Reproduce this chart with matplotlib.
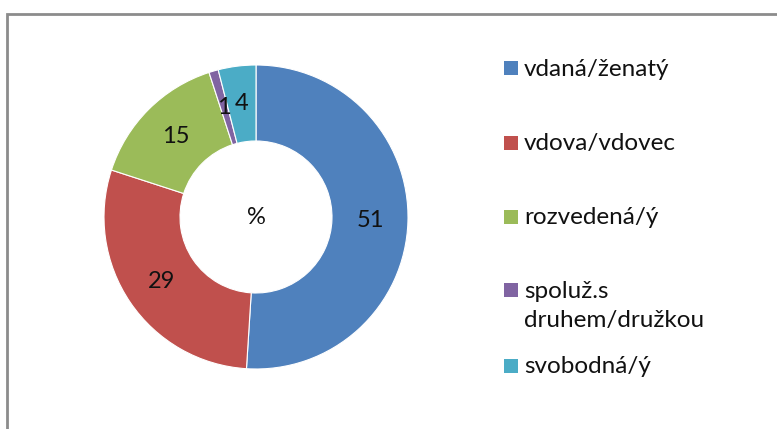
import numpy as np
import matplotlib
matplotlib.use("Agg")
import matplotlib.pyplot as plt
from matplotlib.patches import Rectangle

categories = ["vdaná/ženatý", "vdova/vdovec", "rozvedená/ý", "spolu\u017e.s\ndruhem/dru\u017ekou", "svobodná/ý"]
values = [51, 29, 15, 1, 4]
colors = ["#4F81BD", "#C0504D", "#9BBB59", "#8064A2", "#4BACC6"]
center_label = "%"

plt.rcParams['font.family'] = ['Lato', 'DejaVu Sans']

W, H = 777, 429
fig = plt.figure(figsize=(W / 100, H / 100), dpi=100)
fig.patch.set_facecolor("white")

# outer frame
fig.patches.append(Rectangle((7 / W, -20 / H), 900 / W, (H - 14 + 20) / H,
                             transform=fig.transFigure, fill=False,
                             edgecolor="#8c8c8c", linewidth=2))

cx, cy, R = 256, 217, 152
ax = fig.add_axes([(cx - R) / W, (H - cy - R) / H, 2 * R / W, 2 * R / H])

wedges, _ = ax.pie(values, colors=colors, startangle=90, counterclock=False,
                   radius=1.0, wedgeprops=dict(width=0.5, edgecolor="white", linewidth=0.8))
ax.set_xlim(-1, 1)
ax.set_ylim(-1, 1)
ax.set_aspect("equal")
ax.axis("off")

for w, v in zip(wedges, values):
    ang = np.deg2rad((w.theta1 + w.theta2) / 2)
    ax.text(0.75 * np.cos(ang), 0.75 * np.sin(ang), str(v), ha="center", va="center",
            fontsize=17, color="#111111")

ax.text(0, 0, center_label, ha="center", va="center", fontsize=17, color="#111111")

# legend
rows_y = [68, 142.5, 216.5, 290, 365.5]
msz = 14
fs = 17.5
for lab, c, y in zip(categories, colors, rows_y):
    fig.patches.append(Rectangle(((511 - msz / 2) / W, (H - y - msz / 2) / H), msz / W, msz / H,
                                 transform=fig.transFigure, facecolor=c, edgecolor="none"))
    lines = lab.split("\n")
    for i, line in enumerate(lines):
        fig.text(524 / W, (H - y - 1 - 29 * i) / H, line, ha="left", va="center",
                 fontsize=fs, color="#111111")

fig.savefig("out.png", dpi=100, facecolor="white")
